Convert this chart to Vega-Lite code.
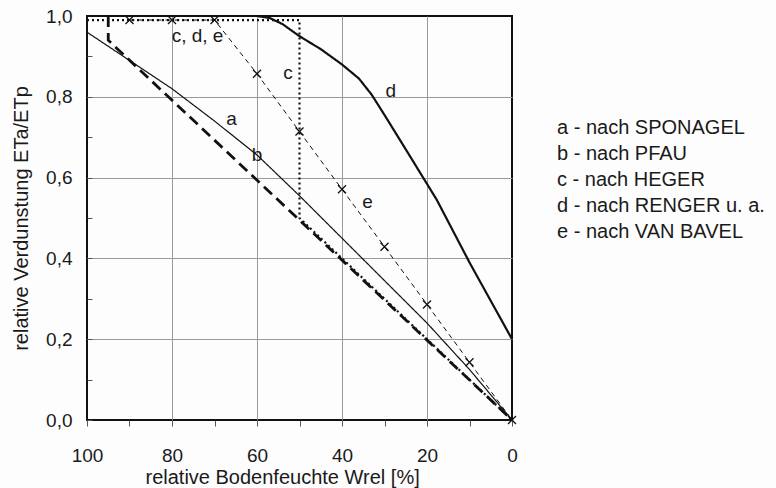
{
  "$schema": "https://vega.github.io/schema/vega-lite/v6.json",
  "width": 425,
  "height": 404,
  "autosize": "none",
  "padding": {"left": 87, "top": 16, "right": 264, "bottom": 68},
  "background": "#fdfdfd",
  "config": {
    "view": {"stroke": "#111", "strokeWidth": 2},
    "font": "Liberation Sans"
  },
  "datasets": {
    "curves": [
      {"kurve": "a - nach SPONAGEL", "o": 1, "W": 100, "v": 0.96},
      {"kurve": "a - nach SPONAGEL", "o": 2, "W": 90, "v": 0.89},
      {"kurve": "a - nach SPONAGEL", "o": 3, "W": 80, "v": 0.82},
      {"kurve": "a - nach SPONAGEL", "o": 4, "W": 70, "v": 0.74},
      {"kurve": "a - nach SPONAGEL", "o": 5, "W": 60, "v": 0.656},
      {"kurve": "a - nach SPONAGEL", "o": 6, "W": 50, "v": 0.555},
      {"kurve": "a - nach SPONAGEL", "o": 7, "W": 40, "v": 0.45},
      {"kurve": "a - nach SPONAGEL", "o": 8, "W": 30, "v": 0.345},
      {"kurve": "a - nach SPONAGEL", "o": 9, "W": 20, "v": 0.24},
      {"kurve": "a - nach SPONAGEL", "o": 10, "W": 10, "v": 0.125},
      {"kurve": "a - nach SPONAGEL", "o": 11, "W": 0, "v": 0},
      {"kurve": "b - nach PFAU", "o": 1, "W": 95, "v": 1.0},
      {"kurve": "b - nach PFAU", "o": 2, "W": 95, "v": 0.94},
      {"kurve": "b - nach PFAU", "o": 3, "W": 0, "v": 0},
      {"kurve": "c - nach HEGER", "o": 1, "W": 100, "v": 0.99},
      {"kurve": "c - nach HEGER", "o": 2, "W": 50, "v": 0.99},
      {"kurve": "c - nach HEGER", "o": 3, "W": 50, "v": 0.5},
      {"kurve": "c - nach HEGER", "o": 4, "W": 0, "v": 0},
      {"kurve": "d - nach RENGER u. a.", "o": 1, "W": 100, "v": 1.0},
      {"kurve": "d - nach RENGER u. a.", "o": 2, "W": 60, "v": 1.0},
      {"kurve": "d - nach RENGER u. a.", "o": 3, "W": 57, "v": 0.995},
      {"kurve": "d - nach RENGER u. a.", "o": 4, "W": 54, "v": 0.98},
      {"kurve": "d - nach RENGER u. a.", "o": 5, "W": 50, "v": 0.95},
      {"kurve": "d - nach RENGER u. a.", "o": 6, "W": 45, "v": 0.918},
      {"kurve": "d - nach RENGER u. a.", "o": 7, "W": 40, "v": 0.88},
      {"kurve": "d - nach RENGER u. a.", "o": 8, "W": 36, "v": 0.845},
      {"kurve": "d - nach RENGER u. a.", "o": 9, "W": 33, "v": 0.805},
      {"kurve": "d - nach RENGER u. a.", "o": 10, "W": 30, "v": 0.755},
      {"kurve": "d - nach RENGER u. a.", "o": 11, "W": 25, "v": 0.67},
      {"kurve": "d - nach RENGER u. a.", "o": 12, "W": 17.7, "v": 0.545},
      {"kurve": "d - nach RENGER u. a.", "o": 13, "W": 10, "v": 0.39},
      {"kurve": "d - nach RENGER u. a.", "o": 14, "W": 0, "v": 0.2},
      {"kurve": "e - nach VAN BAVEL", "o": 1, "W": 90, "v": 0.99},
      {"kurve": "e - nach VAN BAVEL", "o": 2, "W": 80, "v": 0.99},
      {"kurve": "e - nach VAN BAVEL", "o": 3, "W": 70, "v": 0.99},
      {"kurve": "e - nach VAN BAVEL", "o": 4, "W": 60, "v": 0.857},
      {"kurve": "e - nach VAN BAVEL", "o": 5, "W": 50, "v": 0.714},
      {"kurve": "e - nach VAN BAVEL", "o": 6, "W": 40, "v": 0.571},
      {"kurve": "e - nach VAN BAVEL", "o": 7, "W": 30, "v": 0.429},
      {"kurve": "e - nach VAN BAVEL", "o": 8, "W": 20, "v": 0.286},
      {"kurve": "e - nach VAN BAVEL", "o": 9, "W": 10, "v": 0.143},
      {"kurve": "e - nach VAN BAVEL", "o": 10, "W": 0, "v": 0}
    ],
    "labels": [
      {"t": "c, d, e", "W": 74, "v": 0.95},
      {"t": "c", "W": 52.7, "v": 0.86},
      {"t": "d", "W": 28.5, "v": 0.815},
      {"t": "a", "W": 66, "v": 0.745},
      {"t": "b", "W": 60, "v": 0.655},
      {"t": "e", "W": 34, "v": 0.54}
    ]
  },
  "layer": [
    {
      "data": {"name": "curves"},
      "mark": {"type": "line", "color": "#111", "clip": false},
      "encoding": {
        "x": {
          "field": "W", "type": "quantitative",
          "scale": {"domain": [0, 100], "reverse": true, "nice": false},
          "axis": {
            "title": "relative Bodenfeuchte Wrel [%]",
            "titleFontSize": 20, "titleFontWeight": "normal", "titleColor": "#1a1a1a", "titlePadding": 2,
            "titleX": 58, "titleAlign": "left",
            "values": [0, 10, 20, 30, 40, 50, 60, 70, 80, 90, 100],
            "labelExpr": "datum.value % 20 == 0 ? datum.label : ''",
            "labelFontSize": 19, "labelColor": "#1a1a1a", "labelPadding": 20, "labelFlush": false,
            "tickSize": 6, "tickColor": "#555",
            "domain": false,
            "grid": true, "gridColor": "#9a9a9a", "gridWidth": 1,
            "gridOpacity": {"condition": {"test": "datum.value % 20 != 0 || datum.value == 0 || datum.value == 100", "value": 0}, "value": 1}
          }
        },
        "y": {
          "field": "v", "type": "quantitative",
          "scale": {"domain": [0, 1], "nice": false},
          "axis": {
            "title": "relative Verdunstung ETa/ETp",
            "titleFontSize": 20, "titleFontWeight": "normal", "titleColor": "#1a1a1a", "titlePadding": 14,
            "values": [0, 0.1, 0.2, 0.3, 0.4, 0.5, 0.6, 0.7, 0.8, 0.9, 1.0],
            "labelExpr": "round(datum.value * 10) % 2 == 0 ? replace(format(datum.value, '.1f'), '.', ',') : ''",
            "labelFontSize": 19, "labelColor": "#1a1a1a", "labelPadding": 20,
            "tickSize": -5, "tickColor": "#555",
            "domain": false,
            "grid": true, "gridColor": "#9a9a9a", "gridWidth": 1,
            "gridOpacity": {"condition": {"test": "round(datum.value * 10) % 2 == 1 || datum.value == 0 || datum.value == 1", "value": 0}, "value": 1}
          }
        },
        "order": {"field": "o", "type": "quantitative"},
        "detail": {"field": "kurve", "type": "nominal"},
        "strokeDash": {
          "field": "kurve", "type": "nominal",
          "scale": {
            "domain": ["a - nach SPONAGEL", "b - nach PFAU", "c - nach HEGER", "d - nach RENGER u. a.", "e - nach VAN BAVEL"],
            "range": [[1, 0], [11, 6], [2, 3], [1, 0], [5, 4]]
          },
          "legend": {
            "orient": "none", "legendX": 450, "legendY": 102,
            "title": null, "padding": 0,
            "symbolSize": 0, "symbolStrokeWidth": 0, "symbolOpacity": 0,
            "labelFontSize": 20, "labelColor": "#1a1a1a", "labelLimit": 320, "labelOffset": 0,
            "rowPadding": 6
          }
        },
        "strokeWidth": {
          "field": "kurve", "type": "nominal",
          "scale": {
            "type": "ordinal",
            "domain": ["a - nach SPONAGEL", "b - nach PFAU", "c - nach HEGER", "d - nach RENGER u. a.", "e - nach VAN BAVEL"],
            "range": [1.2, 2.8, 2.2, 2.2, 1]
          },
          "legend": null
        }
      }
    },
    {
      "data": {"name": "curves"},
      "transform": [{"filter": "datum.kurve == 'e - nach VAN BAVEL'"}],
      "mark": {"type": "point", "shape": "M-1,-1L1,1M1,-1L-1,1", "filled": false, "stroke": "#111", "strokeWidth": 1.3, "size": 64, "opacity": 1, "clip": false},
      "encoding": {
        "x": {"field": "W", "type": "quantitative"},
        "y": {"field": "v", "type": "quantitative"}
      }
    },
    {
      "data": {"name": "labels"},
      "mark": {"type": "text", "fontSize": 19, "color": "#1a1a1a", "align": "center", "baseline": "middle"},
      "encoding": {
        "x": {"field": "W", "type": "quantitative"},
        "y": {"field": "v", "type": "quantitative"},
        "text": {"field": "t", "type": "nominal"}
      }
    }
  ]
}
